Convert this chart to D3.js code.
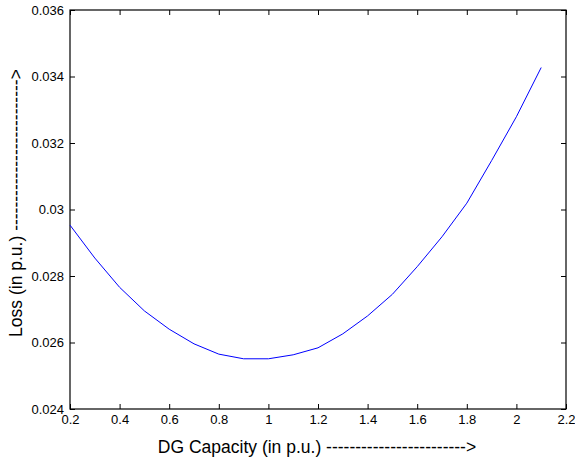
<!DOCTYPE html>
<html lang="en">
<head>
    <meta charset="UTF-8">
    <title>Loss vs DG Capacity</title>
    <script src="https://d3js.org/d3.v7.min.js"></script>
    <style>
        body { margin: 0; background: #fff; }
        text { font-family: "Liberation Sans", Arial, Helvetica, sans-serif; }
    </style>
</head>
<body>
<script>
    // DG capacity (p.u.) and the resulting loss (p.u.)
    var capacity = [0.2, 0.3, 0.4, 0.5, 0.6, 0.7, 0.8, 0.9, 1.0, 1.1,
                    1.2, 1.3, 1.4, 1.5, 1.6, 1.7, 1.8, 1.9, 2.0, 2.1];
    var loss = [0.02953, 0.02854, 0.02766, 0.02695, 0.02640, 0.02596, 0.02565, 0.02551, 0.02551, 0.02563,
                0.02584, 0.02626, 0.02680, 0.02745, 0.02828, 0.02918, 0.03019, 0.03147, 0.03279, 0.03427];
    var xTicks = [0.2, 0.4, 0.6, 0.8, 1, 1.2, 1.4, 1.6, 1.8, 2, 2.2];
    var yTicks = [0.024, 0.026, 0.028, 0.03, 0.032, 0.034, 0.036];

    var width = 575, height = 460;
    var margin = {left: 70, top: 10, right: 9, bottom: 51};
    var w = width - margin.left - margin.right;
    var h = height - margin.top - margin.bottom;

    var svg = d3.select("body").append("svg")
        .attr("width", width)
        .attr("height", height);

    var g = svg.append("g")
        .attr("transform", "translate(" + margin.left + "," + margin.top + ")");

    var x = d3.scaleLinear().domain([0.2, 2.2]).range([0, w]);
    var y = d3.scaleLinear().domain([0.024, 0.036]).range([h, 0]);

    function styleAxis(sel) {
        sel.select(".domain").remove();
        sel.selectAll(".tick line").attr("stroke", "#000");
        sel.selectAll("text").attr("fill", "#000").style("font-size", "13px");
    }

    // bottom and left axes with labels, ticks pointing inward
    g.append("g")
        .attr("transform", "translate(0," + h + ")")
        .call(d3.axisBottom(x).tickValues(xTicks).tickSize(-5).tickPadding(6)
            .tickFormat(function (d) { return +d.toFixed(1) + ""; }))
        .call(styleAxis);

    g.append("g")
        .call(d3.axisLeft(y).tickValues(yTicks).tickSize(-5).tickPadding(6)
            .tickFormat(function (d) { return +d.toFixed(3) + ""; }))
        .call(styleAxis);

    // top and right axes, ticks only
    g.append("g")
        .call(d3.axisTop(x).tickValues(xTicks).tickSize(-5).tickFormat(""))
        .call(styleAxis);

    g.append("g")
        .attr("transform", "translate(" + w + ",0)")
        .call(d3.axisRight(y).tickValues(yTicks).tickSize(-5).tickFormat(""))
        .call(styleAxis);

    g.append("rect")
        .attr("width", w)
        .attr("height", h)
        .attr("fill", "none")
        .attr("stroke", "#000")
        .attr("stroke-width", 1.2);

    var line = d3.line()
        .x(function (d, i) { return x(capacity[i]); })
        .y(function (d) { return y(d); });

    g.append("path")
        .datum(loss)
        .attr("d", line)
        .attr("fill", "none")
        .attr("stroke", "#0000ff")
        .attr("stroke-width", 1);

    svg.append("text")
        .attr("x", 317)
        .attr("y", 453)
        .attr("text-anchor", "middle")
        .style("font-size", "17.5px")
        .text("DG Capacity (in p.u.) ------------------------>");

    svg.append("text")
        .attr("transform", "translate(22,203) rotate(-90)")
        .attr("text-anchor", "middle")
        .style("font-size", "17.5px")
        .text("Loss (in p.u.) -------------------------->");
</script>
</body>
</html>
